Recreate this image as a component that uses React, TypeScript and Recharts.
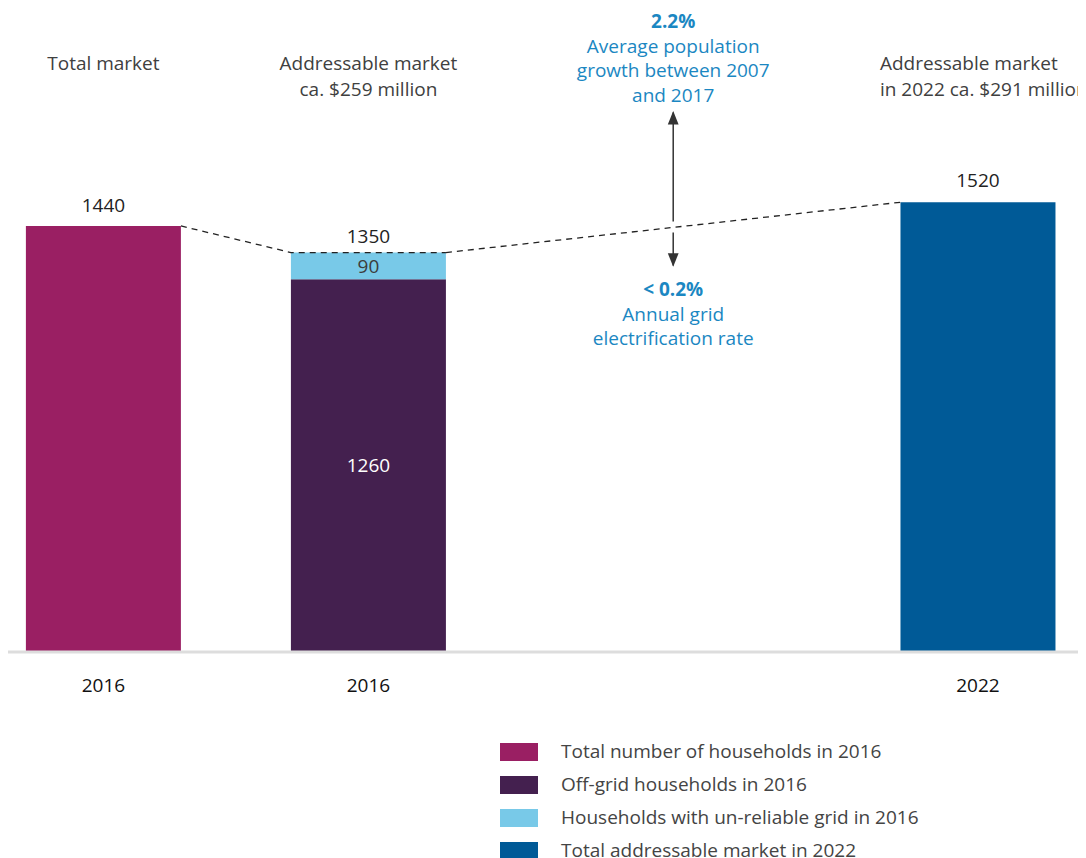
import { ComposedChart, Bar, XAxis, YAxis, LabelList, ReferenceLine } from 'recharts';

const categories = ['2016', '2016', '2022'];
const barSlots = [0, 10, 33];
const totalHouseholds = [1440, null, null];
const offGrid = [null, 1260, null];
const unreliable = [null, 90, null];
const market2022 = [null, null, 1520];

const topLabels = [
  ['Total market'],
  ['Addressable market', 'ca. $259 million'],
  ['Addressable market', 'in 2022 ca. $291 million'],
];

const seriesNames = [
  'Total number of households in 2016',
  'Off-grid households in 2016',
  'Households with un-reliable grid in 2016',
  'Total addressable market in 2022',
];
const seriesColors = ['#9a1f63', '#44204f', '#78c9e8', '#005a97'];

const growthNote = ['2.2%', 'Average population', 'growth between 2007', 'and 2017'];
const electrificationNote = ['< 0.2%', 'Annual grid', 'electrification rate'];

const data = categories.map((year, i) => ({
  year,
  slot: barSlots[i],
  total: totalHouseholds[i],
  offGrid: offGrid[i],
  unreliable: unreliable[i],
  market: market2022[i],
}));

const FONT = '"Open Sans", sans-serif';
const FS = 19;
const BAR = 155;
const HALF = BAR / 2;
const BLUE = '#1b87c2';

function TopTick(props: any) {
  const { x, y, index } = props;
  const lines = topLabels[index] || [];
  const last = index === topLabels.length - 1;
  const tx = last ? x - 98 : x;
  return (
    <text x={tx} y={y} textAnchor={last ? 'start' : 'middle'} fill="#404040" fontSize={FS} fontFamily={FONT}>
      {lines.map((l, i) => (
        <tspan key={i} x={tx} y={y - 71 + i * 26}>
          {l}
        </tspan>
      ))}
    </text>
  );
}

const dash = { stroke: '#222', strokeWidth: 1.3, strokeDasharray: '6 5', fill: 'none' };

// dashed link from the first bar to the stacked bar, running on along its top
function FirstLink(props: any) {
  const { x1, y1, x2, y2 } = props;
  return <path d={`M${x1 + HALF},${y1} L${x2 - HALF},${y2} L${x2 + HALF},${y2}`} {...dash} />;
}

// dashed link to the 2022 bar, with the growth / electrification note at its middle
function SecondLink(props: any) {
  const { x1, y1, x2, y2 } = props;
  const ax = x1 + HALF;
  const bx = x2 - HALF;
  const mx = (ax + bx) / 2;
  const my = (y1 + y2) / 2;
  return (
    <g>
      <defs>
        <marker id="arrowHead" viewBox="0 0 10 10" refX="9" refY="5" markerWidth="9" markerHeight="9" orient="auto-start-reverse">
          <path d="M0,1 L10,5 L0,9 z" fill="#333" />
        </marker>
      </defs>
      <path d={`M${ax},${y1} L${bx},${y2}`} {...dash} />
      <line x1={mx} y1={my - 6} x2={mx} y2={my - 115} stroke="#333" strokeWidth={1.5} markerEnd="url(#arrowHead)" />
      <line x1={mx} y1={my + 5} x2={mx} y2={my + 38} stroke="#333" strokeWidth={1.5} markerEnd="url(#arrowHead)" />
      <text x={mx} textAnchor="middle" fill={BLUE} fontSize={FS} fontFamily={FONT}>
        {growthNote.map((l, i) => (
          <tspan key={i} x={mx} y={my - 199 + i * 24.5} fontWeight={i === 0 ? 700 : 400}>
            {l}
          </tspan>
        ))}
      </text>
      <text x={mx} textAnchor="middle" fill={BLUE} fontSize={FS} fontFamily={FONT}>
        {electrificationNote.map((l, i) => (
          <tspan key={i} x={mx} y={my + 69 + i * 24.5} fontWeight={i === 0 ? 700 : 400}>
            {l}
          </tspan>
        ))}
      </text>
    </g>
  );
}

const stackTop = (entry: any) =>
  entry && entry.payload && entry.payload.unreliable != null && Array.isArray(entry.value)
    ? entry.value[1]
    : undefined;

export default function App() {
  const labelStyle = { fontFamily: FONT, fontSize: FS };
  return (
    <div style={{ position: 'relative', width: 1070, height: 850, fontFamily: FONT }}>
      <ComposedChart width={1078} height={700} data={data} margin={{ top: 0, right: 2, bottom: 0, left: 0 }}>
        <XAxis
          xAxisId="top"
          orientation="top"
          type="number"
          dataKey="slot"
          domain={[-3.6, 37]}
          allowDataOverflow
          ticks={barSlots}
          interval={0}
          height={141}
          axisLine={false}
          tickLine={false}
          tick={<TopTick />}
        />
        <XAxis
          type="number"
          dataKey="slot"
          domain={[-3.6, 37]}
          allowDataOverflow
          ticks={barSlots}
          interval={0}
          height={56}
          tickFormatter={(_v: number, i: number) => categories[i]}
          axisLine={{ stroke: '#dddddd', strokeWidth: 3 }}
          tickLine={false}
          tickMargin={21}
          tick={{ fill: '#111', fontSize: FS, fontFamily: FONT }}
        />
        <YAxis hide domain={[0, 1700]} allowDataOverflow />
        <Bar dataKey="total" stackId="a" barSize={BAR} fill={seriesColors[0]} isAnimationActive={false}>
          <LabelList dataKey="total" position="top" offset={14} fill="#222" style={labelStyle} />
        </Bar>
        <Bar dataKey="offGrid" stackId="a" barSize={BAR} fill={seriesColors[1]} isAnimationActive={false}>
          <LabelList dataKey="offGrid" position="center" fill="#ffffff" style={labelStyle} />
        </Bar>
        <Bar dataKey="unreliable" stackId="a" barSize={BAR} fill={seriesColors[2]} isAnimationActive={false}>
          <LabelList dataKey="unreliable" position="center" fill="#3c3c3c" style={labelStyle} />
          <LabelList valueAccessor={stackTop} position="top" offset={10} fill="#222" style={labelStyle} />
        </Bar>
        <Bar dataKey="market" stackId="a" barSize={BAR} fill={seriesColors[3]} isAnimationActive={false}>
          <LabelList dataKey="market" position="top" offset={15} fill="#222" style={labelStyle} />
        </Bar>
        <ReferenceLine
          segment={[
            { x: barSlots[0], y: totalHouseholds[0] as number },
            { x: barSlots[1], y: (offGrid[1] as number) + (unreliable[1] as number) },
          ]}
          shape={FirstLink}
        />
        <ReferenceLine
          segment={[
            { x: barSlots[1], y: (offGrid[1] as number) + (unreliable[1] as number) },
            { x: barSlots[2], y: market2022[2] as number },
          ]}
          shape={SecondLink}
        />
      </ComposedChart>
      <div style={{ position: 'absolute', left: 492, top: 734 }}>
        {seriesNames.map((name, i) => (
          <div key={name} style={{ display: 'flex', alignItems: 'center', height: 33 }}>
            <span style={{ width: 38, height: 18, background: seriesColors[i], marginRight: 23, marginTop: -14 }} />
            <span style={{ fontSize: FS, color: '#444', marginTop: -15 }}>{name}</span>
          </div>
        ))}
      </div>
    </div>
  );
}
